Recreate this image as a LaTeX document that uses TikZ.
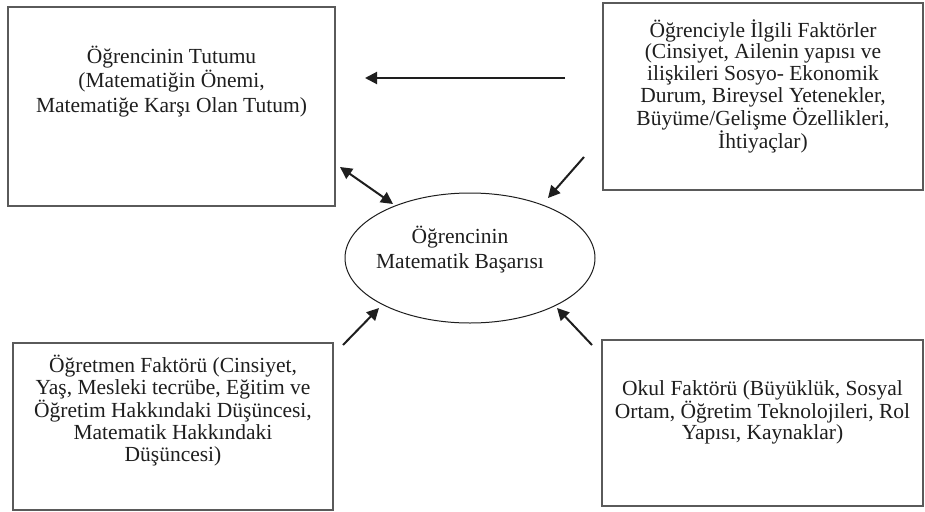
\documentclass[tikz,border=0pt]{standalone}
\usepackage{fontspec}
\setmainfont{Liberation Serif}
\usetikzlibrary{arrows.meta,shapes.geometric}
\definecolor{boxgray}{HTML}{5A5A5A}
\definecolor{inkdark}{HTML}{1E1E1E}
\begin{document}
\begin{tikzpicture}[x=1pt,y=-1pt,
  box/.style={draw=boxgray, line width=1.2pt, inner sep=0pt, outer sep=0pt, anchor=north west, text=inkdark},
  arr/.style={draw=inkdark, line width=2pt, -{Triangle[length=12pt,width=12pt]}},
  darr/.style={draw=inkdark, line width=2pt, {Triangle[length=12pt,width=12pt]}-{Triangle[length=12pt,width=12pt]}},
  ell/.style={draw=inkdark, line width=1pt, ellipse, inner sep=0pt, minimum width=250pt, minimum height=130pt}
]
\useasboundingbox (0,0) rectangle (925,511);
\fill[white] (0,0) rectangle (925,511);

% boxes
\node[box] (tl) at (8,7) {\parbox[c][199pt][t]{327pt}{\centering\fontsize{21.5}{24.5}\selectfont
  \rule{0pt}{56pt}Öğrencinin Tutumu\\(Matematiğin Önemi,\\Matematiğe Karşı Olan Tutum)}};

\node[box] (tr) at (603,3) {\parbox[c][187pt][t]{320pt}{\centering\fontsize{21.5}{21.7}\selectfont
  \rule{0pt}{34pt}Öğrenciyle İlgili Faktörler\\(Cinsiyet, Ailenin yapısı ve\\ilişkileri Sosyo- Ekonomik\\Durum, Bireysel Yetenekler,\\Büyüme/Gelişme Özellikleri,\\İhtiyaçlar)}};

\node[box] (bl) at (13,343) {\parbox[c][167pt][t]{320pt}{\centering\fontsize{21.5}{22}\selectfont
  \rule{0pt}{29pt}Öğretmen Faktörü (Cinsiyet,\\Yaş, Mesleki tecrübe, Eğitim ve\\Öğretim Hakkındaki Düşüncesi,\\Matematik Hakkındaki\\Düşüncesi)}};

\node[box] (br) at (602,340) {\parbox[c][166pt][t]{321pt}{\centering\fontsize{21.5}{21.7}\selectfont
  \rule{0pt}{55pt}Okul Faktörü (Büyüklük, Sosyal\\Ortam, Öğretim Teknolojileri, Rol\\Yapısı, Kaynaklar)}};

% central ellipse
\node[ell] (ach) at (470,258) {};
\node[anchor=north, inner sep=0pt, text=inkdark] (achtxt) at (460,220) {\parbox[t]{200pt}{\centering\fontsize{21.5}{25}\selectfont
  \rule{0pt}{23pt}Öğrencinin\\Matematik Başarısı}};

% connector end points
\coordinate (h1) at (565,78);
\coordinate (h2) at (365,78);
\coordinate (d1) at (340,167);
\coordinate (d2) at (393,204);
\coordinate (a1) at (584,157);
\coordinate (a2) at (548,198);
\coordinate (b1) at (343,345);
\coordinate (b2) at (379,308);
\coordinate (c1) at (592,345);
\coordinate (c2) at (557,308);

\draw[arr] (h1) -- (h2);
\draw[darr] (d1) -- (d2);
\draw[arr] (a1) -- (a2);
\draw[arr] (b1) -- (b2);
\draw[arr] (c1) -- (c2);
\end{tikzpicture}
\end{document}
